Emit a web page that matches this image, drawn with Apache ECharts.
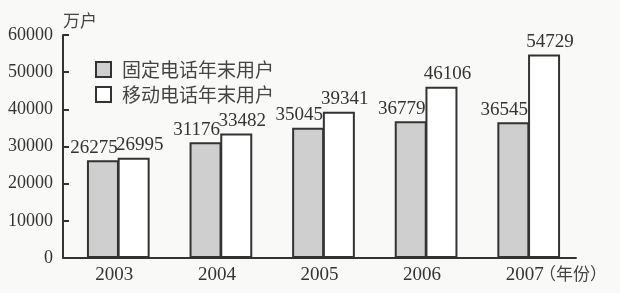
<!DOCTYPE html>
<html>
<head>
<meta charset="utf-8">
<script src="https://cdn.jsdelivr.net/npm/echarts@6/dist/echarts.min.js"></script>
<style>
html,body{margin:0;padding:0;background:#f9f9f7;}
#chart{width:620px;height:293px;}
</style>
</head>
<body>
<div id="chart"></div>
<script>
var years = ['2003', '2004', '2005', '2006', '2007'];
var fixedUsers = [26275, 31176, 35045, 36779, 36545];
var mobileUsers = [26995, 33482, 39341, 46106, 54729];
var seriesNames = ['固定电话年末用户', '移动电话年末用户'];
var yTicks = [0, 10000, 20000, 30000, 40000, 50000, 60000];

var serif = 'Liberation Serif, DejaVu Serif, serif';
var cjk = 'Noto Sans CJK SC, sans-serif';
var ink = '#333';
var yMin = yTicks[0], yMax = yTicks[yTicks.length - 1], yStep = yTicks[1] - yTicks[0];

var chart = echarts.init(document.getElementById('chart'));
chart.setOption({
  backgroundColor: '#f9f9f7',
  animation: false,
  grid: [
    { left: 63, right: 44, top: 35, bottom: 35 },
    { left: 67, right: 40, top: 35, bottom: 35 }
  ],
  legend: {
    orient: 'vertical',
    left: 90,
    top: 55,
    itemWidth: 15,
    itemHeight: 15,
    itemGap: 6,
    icon: 'rect',
    data: seriesNames,
    textStyle: { fontFamily: cjk, fontSize: 19, color: '#444', padding: [0, 0, 0, 6] }
  },
  xAxis: [{
    type: 'category',
    gridIndex: 0,
    data: years,
    axisLine: { lineStyle: { color: ink, width: 2 } },
    axisTick: { inside: true, length: 4, lineStyle: { color: ink, width: 2 } },
    axisLabel: { fontFamily: serif, fontSize: 19, color: ink, margin: 8 }
  }, {
    type: 'category',
    gridIndex: 1,
    data: years,
    show: false
  }],
  yAxis: [{
    type: 'value',
    gridIndex: 0,
    min: yMin,
    max: yMax,
    interval: yStep,
    name: '万户',
    nameLocation: 'end',
    nameGap: 6,
    nameTextStyle: { fontFamily: cjk, fontSize: 17, color: '#444', align: 'left' },
    axisLine: { show: true, lineStyle: { color: ink, width: 2 } },
    axisTick: { show: true, inside: true, length: 6, lineStyle: { color: ink, width: 2 } },
    splitLine: { show: false },
    axisLabel: { fontFamily: serif, fontSize: 18, color: ink, margin: 10, formatter: function (v) { return String(v); } }
  }, {
    type: 'value',
    gridIndex: 1,
    min: yMin,
    max: yMax,
    interval: yStep,
    show: false,
    splitLine: { show: false }
  }],
  graphic: [{
    type: 'text',
    left: 539,
    top: 265,
    style: { text: '（年份）', font: '17px "Noto Sans CJK SC"', fill: '#444' }
  }],
  series: [{
    name: seriesNames[0],
    type: 'bar',
    xAxisIndex: 1,
    yAxisIndex: 1,
    data: fixedUsers,
    barWidth: 32,
    barGap: '-4%',
    itemStyle: { color: '#cfcfcf', borderColor: ink, borderWidth: 2 },
    label: { show: true, position: 'top', distance: 3, offset: [-9, 0], fontFamily: serif, fontSize: 19, color: ink }
  }, {
    name: seriesNames[1],
    type: 'bar',
    xAxisIndex: 1,
    yAxisIndex: 1,
    data: mobileUsers,
    barWidth: 32,
    barGap: '-4%',
    itemStyle: { color: '#ffffff', borderColor: ink, borderWidth: 2 },
    label: { show: true, position: 'top', distance: 3, offset: [6, 0], fontFamily: serif, fontSize: 19, color: ink }
  }]
});
</script>
</body>
</html>
